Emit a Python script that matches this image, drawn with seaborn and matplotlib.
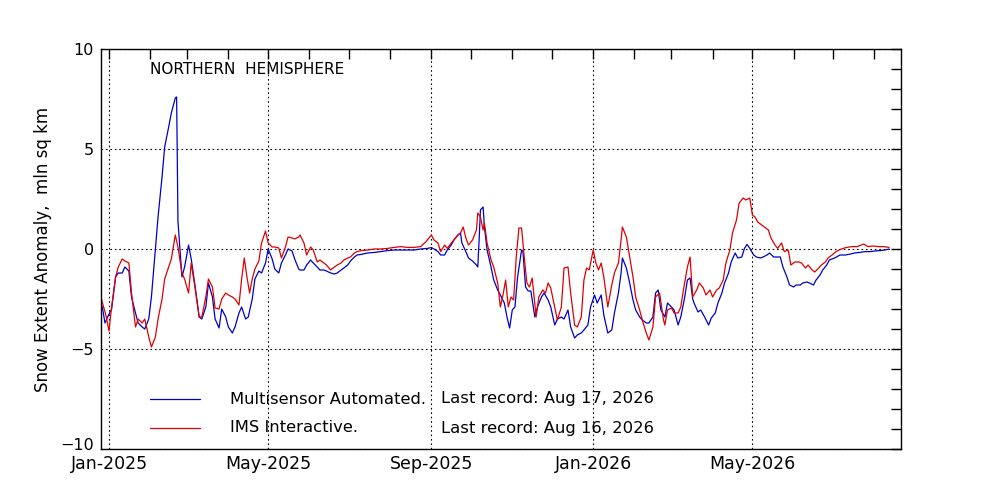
import numpy as np
import pandas as pd
import seaborn as sns
import matplotlib.pyplot as plt
import matplotlib.dates as mdates
from matplotlib.ticker import MultipleLocator
from matplotlib.lines import Line2D
from matplotlib.transforms import ScaledTranslation

# days counted from 2025-01-01, values in mln sq km
base_date = "2025-01-01"

auto_days = [-7, -5, -3, -1, 2, 5, 7, 10, 12, 15, 17, 20, 22, 25, 27, 30, 32, 35, 37, 40,
             42, 45, 47, 50, 51, 52, 55, 57, 60, 62, 65, 68, 70, 73, 75, 78, 80, 83, 85, 88,
             90, 93, 95, 98, 100, 103, 105, 108, 110, 113, 115, 118, 120, 123, 125, 128, 130, 133, 135, 138,
             140, 143,
             144, 147, 149, 152, 154, 157, 159, 162, 164, 167, 170, 172, 175, 177, 180, 182, 185, 187, 190, 195,
             200, 205, 210, 215, 220, 225, 230, 235, 240, 243, 245, 248, 250, 253, 255, 258, 260, 263, 265, 266,
             269, 271, 274, 277, 278, 279, 280, 282, 283, 285, 288, 290, 293,
             295, 298, 300, 302, 304, 306, 308, 311, 312, 314, 316, 318, 321, 323, 326, 328, 331, 333, 336, 338,
             341, 343, 346, 348, 351, 353, 356, 358, 361, 363, 366, 368, 371, 373, 376, 379, 381, 384, 386, 387,
             390, 392, 395, 397, 400, 402, 405, 407, 410, 412, 414, 416, 419, 421, 424, 426, 429, 431, 434, 436,
             438,
             440, 441, 444, 446, 449, 452, 454, 457, 459, 462, 464, 467, 469, 472, 474, 477, 479, 481, 483, 486,
             488, 491, 493, 496, 498, 501, 503, 506, 508, 511, 513, 516, 518, 521, 523, 526, 528, 531, 533, 536,
             538, 541, 543, 547, 551, 555, 559, 562, 566, 570, 574, 577, 581, 585, 588]
auto_vals = [-2.7, -2.9, -3.7, -3.4, -3.0, -1.4, -1.2, -1.2, -0.9, -1.1, -2.4, -3.2, -3.7, -3.9, -4.0, -3.5, -2.4, 0.0, 1.6, 3.6,
             5.1, 6.1, 6.8, 7.55, 7.6, 1.4, -1.4, -0.9, 0.2, -0.5, -1.9, -3.4, -3.5, -2.9, -1.7, -2.4, -3.5, -3.95, -3.0, -3.4,
             -3.9, -4.2, -3.9, -3.2, -2.9, -3.5, -3.4, -2.5, -1.5, -1.1, -1.2, -0.7, 0.0, -0.5, -1.0, -1.2, -0.7, -0.3, 0.0, -0.1,
             -0.5, -1.0,
             -1.05, -1.05, -0.8, -0.55, -0.7, -0.9, -1.05, -1.05, -1.1, -1.2, -1.25, -1.2, -1.05, -0.95, -0.8, -0.6, -0.4, -0.3, -0.27, -0.2,
             -0.17, -0.13, -0.08, -0.05, -0.05, -0.05, -0.05, 0.0, 0.03, 0.07, 0.0, -0.13, -0.3, -0.3, -0.05, 0.2, 0.45, 0.7, 0.8, 0.3,
             -0.13, -0.45, -0.6, -0.8, -0.9, 0.45, 1.95, 2.1, 1.1, -0.05, -0.9, -1.55, -2.05,
             -2.3, -2.7, -3.4, -3.95, -3.05, -2.9, -1.4, -0.05, -0.1, -1.9, -2.1, -2.1, -3.4, -2.9, -2.4, -2.2, -2.55, -2.9, -3.8, -3.5,
             -3.4, -3.5, -3.05, -3.9, -4.45, -4.3, -4.2, -4.05, -3.8, -2.9, -2.3, -2.7, -2.3, -3.3, -4.2, -4.05, -3.2, -2.2, -1.2, -0.45,
             -0.95, -1.55, -2.55, -3.05, -3.4, -3.55, -3.7, -3.7, -3.4, -2.2, -2.05, -3.05, -3.4, -2.7, -2.9, -3.05, -3.8, -3.4, -2.4, -1.55,
             -1.45,
             -2.5, -2.7, -3.15, -3.05, -3.4, -3.8, -3.45, -3.2, -2.7, -2.2, -1.7, -1.2, -0.65, -0.2, -0.45, -0.4, 0.03, 0.23, 0.03, -0.3,
             -0.4, -0.45, -0.4, -0.3, -0.2, -0.4, -0.4, -0.4, -0.9, -1.4, -1.8, -1.9, -1.8, -1.8, -1.7, -1.65, -1.7, -1.8, -1.55, -1.3,
             -1.05, -0.8, -0.55, -0.45, -0.3, -0.3, -0.25, -0.2, -0.17, -0.13, -0.13, -0.1, -0.08, -0.05, 0.0]

ims_days = [-7, -4, -2, 0, 2, 5, 7, 10, 12, 15, 17, 20, 22, 25, 27, 30, 32, 35, 37, 40,
            42, 45, 47, 50, 52, 55, 57, 60, 62, 65, 68, 70, 73, 75, 78, 80, 83, 85, 88, 90,
            93, 95, 98, 100, 102, 104, 106, 108, 110, 113, 115, 118, 120, 123, 125, 128, 130, 133, 135, 138,
            140, 143,
            144, 147, 149, 152, 154, 157, 159, 162, 164, 167, 170, 172, 175, 177, 180, 182, 185, 187, 190, 195,
            200, 205, 210, 215, 220, 225, 230, 235, 239, 243, 245, 248, 250, 253, 255, 258, 260, 263, 265, 267,
            269, 271, 274, 277, 278, 280, 282, 283, 285, 288, 290, 293,
            295, 297, 299, 301, 303, 305, 307, 309, 311, 313, 315, 317, 319, 322, 324, 327, 329, 331, 333, 336,
            338, 341, 343, 346, 348, 351, 353, 356, 358, 360, 362, 365, 367, 369, 371, 373, 376, 379, 381, 384,
            386, 387, 390, 392, 395, 397, 400, 402, 405, 407, 410, 412, 415, 418, 419, 421, 424, 426, 429, 431,
            433, 436, 438,
            440, 443, 445, 448, 450, 453, 455, 458, 460, 463, 465, 468, 470, 473, 475, 478, 480, 483, 485, 487,
            489, 492, 494, 497, 499, 502, 504, 507, 509, 512, 514, 517, 520, 522, 525, 527, 530, 532, 535, 537,
            540, 542, 545, 548, 552, 556, 560, 564, 567, 569, 572, 576, 580, 584, 588]
ims_vals = [-2.2, -2.9, -3.4, -4.1, -2.9, -1.4, -0.9, -0.5, -0.6, -0.7, -2.2, -3.9, -3.5, -3.7, -3.5, -4.4, -4.9, -4.4, -3.5, -2.5,
            -1.5, -0.9, -0.5, 0.7, 0.1, -1.2, -1.5, -2.2, -0.7, -2.0, -3.4, -3.4, -2.4, -1.5, -1.9, -2.95, -3.0, -2.5, -2.2, -2.3,
            -2.4, -2.5, -2.8, -1.5, -0.45, -1.4, -2.2, -1.5, -1.0, -0.6, 0.3, 0.9, 0.3, 0.1, 0.1, 0.05, -0.45, 0.1, 0.6, 0.55,
            0.5, 0.6,
            0.7, 0.3, -0.3, 0.1, -0.05, -0.65, -0.55, -0.7, -0.8, -1.05, -0.9, -0.8, -0.7, -0.55, -0.45, -0.4, -0.2, -0.13, -0.08, -0.05,
            0.0, 0.0, 0.03, 0.08, 0.12, 0.08, 0.08, 0.12, 0.37, 0.7, 0.45, 0.3, -0.13, 0.2, 0.03, 0.3, 0.45, 0.7, 0.8, 1.1,
            0.55, 0.2, 0.45, 0.95, 1.8, 1.6, 0.95, 1.3, 0.3, -0.55, -0.9, -1.7,
            -2.9, -2.3, -1.55, -2.9, -2.4, -2.55, -0.4, 1.05, 1.05, -0.4, -1.7, -1.9, -1.45, -3.4, -2.4, -2.05, -2.2, -1.7, -1.95, -2.9,
            -3.55, -2.9, -0.95, -0.9, -2.2, -3.8, -3.9, -3.4, -1.55, -0.95, -1.05, -0.05, -0.7, -1.05, -0.7, -1.4, -2.9, -1.8, -1.2, -0.7,
            0.45, 1.1, 0.6, -0.2, -1.4, -2.4, -3.05, -3.55, -4.2, -4.55, -3.9, -2.4, -2.2, -3.55, -3.8, -3.05, -2.95, -3.2, -3.2, -2.9,
            -2.05, -0.9, -0.4,
            -2.4, -2.05, -1.7, -1.95, -2.3, -2.05, -2.4, -2.05, -1.95, -1.55, -0.7, -0.05, 0.8, 1.45, 2.3, 2.55, 2.45, 2.55, 1.7, 1.6,
            1.35, 1.2, 1.1, 0.95, 0.55, 0.2, 0.03, 0.3, -0.13, -0.05, -0.8, -0.65, -0.65, -0.7, -0.95, -0.8, -1.05, -1.15, -0.95, -0.8,
            -0.65, -0.45, -0.3, -0.13, 0.0, 0.08, 0.12, 0.12, 0.2, 0.25, 0.12, 0.15, 0.12, 0.12, 0.08]

series_names = ["Multisensor Automated.", "IMS Interactive."]
last_records = ["Last record: Aug 17, 2026", "Last record: Aug 16, 2026"]
series_colors = ["#0000c8", "#e00000"]
y_ticks = [-10, -5, 0, 5, 10]
x_start, x_end = "2024-12-26", "2026-08-21"

start = pd.Timestamp(base_date)
df = pd.concat([
    pd.DataFrame({"date": start + pd.to_timedelta(auto_days, unit="D"), "anomaly": auto_vals, "product": series_names[0]}),
    pd.DataFrame({"date": start + pd.to_timedelta(ims_days, unit="D"), "anomaly": ims_vals, "product": series_names[1]}),
])

sns.set_style("white")
plt.rcParams['font.family'] = ['DejaVu Sans']
plt.rcParams['text.color'] = 'black'
plt.rcParams['axes.labelcolor'] = 'black'
plt.rcParams['xtick.color'] = 'black'
plt.rcParams['ytick.color'] = 'black'

fig = plt.figure(figsize=(10, 5), dpi=100)
ax = fig.add_axes([0.101, 0.102, 0.8, 0.8])

sns.lineplot(data=df, x="date", y="anomaly", hue="product",
             palette=dict(zip(series_names, series_colors)),
             estimator=None, legend=False, linewidth=0.9, ax=ax)

ax.set_xlim(pd.Timestamp(x_start), pd.Timestamp(x_end))
ax.set_ylim(-10, 10)

ax.xaxis.set_major_locator(mdates.MonthLocator(bymonth=[1, 5, 9]))
ax.xaxis.set_major_formatter(mdates.DateFormatter("%b-%Y"))
ax.xaxis.set_minor_locator(mdates.MonthLocator())
ax.set_yticks(y_ticks)
ax.yaxis.set_minor_locator(MultipleLocator(1))

ax.tick_params(which="both", direction="in", top=True, right=True, length=7, width=1)
ax.tick_params(axis="x", which="major", labelsize=12.5, pad=4)
ax.tick_params(axis="y", which="major", labelsize=11.5, pad=5)
ax.grid(which="major", linestyle=(0, (1.5, 2.5)), color="black", linewidth=0.8)

# lift the bottom y label a little, as in the reference
lab = ax.get_yticklabels()[0]
lab.set_transform(lab.get_transform() + ScaledTranslation(0, 5 / 100, fig.dpi_scale_trans))

for sp in ax.spines.values():
    sp.set_color("black")
    sp.set_linewidth(1)

ax.set_xlabel("")
ax.set_ylabel("Snow Extent Anomaly,  mln sq km", fontsize=12, labelpad=6)

ax.text(0.061, 0.9475, "NORTHERN  HEMISPHERE", transform=ax.transAxes,
        fontsize=11, va="center", ha="left")

# legend rows
row_y = [0.125, 0.0525]
for name, rec, col, y in zip(series_names, last_records, series_colors, row_y):
    ax.add_line(Line2D([0.061, 0.124], [y, y], transform=ax.transAxes, color=col, linewidth=0.9))
    ax.text(0.161, y, name, transform=ax.transAxes, fontsize=11.8, va="center", ha="left")
    ax.text(0.425, y, rec, transform=ax.transAxes, fontsize=11.8, va="center", ha="left")

fig.savefig("out.png", dpi=100)
